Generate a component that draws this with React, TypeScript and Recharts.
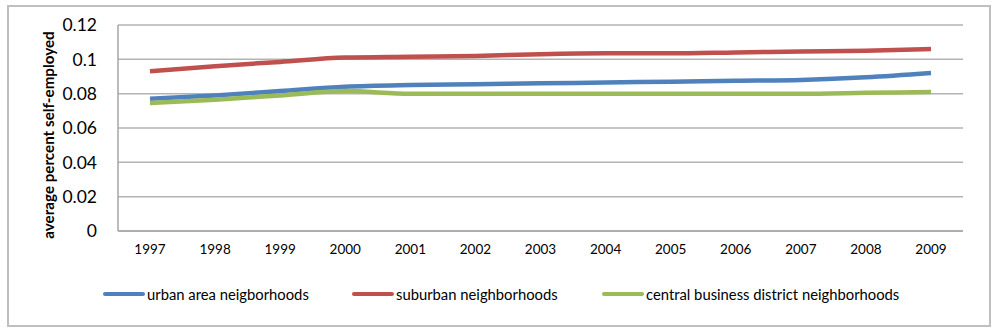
import React from "react";
import { LineChart, Line, XAxis, YAxis, CartesianGrid } from "recharts";

const years = ["1997", "1998", "1999", "2000", "2001", "2002", "2003", "2004", "2005", "2006", "2007", "2008", "2009"];
const urban = [0.077, 0.079, 0.0815, 0.084, 0.085, 0.0855, 0.086, 0.0865, 0.087, 0.0875, 0.088, 0.0895, 0.092];
const suburban = [0.093, 0.096, 0.0985, 0.101, 0.1015, 0.102, 0.103, 0.1035, 0.1035, 0.104, 0.1045, 0.105, 0.106];
const cbd = [0.0745, 0.0765, 0.079, 0.0815, 0.08, 0.08, 0.08, 0.08, 0.08, 0.08, 0.08, 0.0805, 0.081];
const yTicks = [0, 0.02, 0.04, 0.06, 0.08, 0.1, 0.12];

const seriesInfo = [
  { key: "urban", name: "urban area neigborhoods", color: "#4F81BD" },
  { key: "suburban", name: "suburban neighborhoods", color: "#C0504D" },
  { key: "cbd", name: "central business district neighborhoods", color: "#9BBB59" },
];

const data = years.map((y, i) => ({ year: y, urban: urban[i], suburban: suburban[i], cbd: cbd[i] }));

const FONT = "Lato, 'Open Sans', sans-serif";

const legendX = [103, 352, 602];

export default function App() {
  return (
    <div style={{ position: "absolute", left: 0, top: 0, width: 997, height: 332, overflow: "hidden", background: "#fff", fontFamily: FONT }}>
      <LineChart width={997} height={332} data={data} margin={{ top: 25, right: 34, left: 0, bottom: 71 }}>
        <CartesianGrid vertical={false} stroke="#b3b3b3" strokeWidth={1.5} />
        <XAxis
          dataKey="year"
          stroke="#a6a6a6"
          strokeWidth={1.5}
          tickLine={false}
          tickMargin={7}
          height={30}
          padding={{ left: 32, right: 32 }}
          tick={{ fill: "#000", fontSize: 13.5, fontFamily: FONT }}
        />
        <YAxis
          width={118}
          domain={[0, 0.12]}
          ticks={yTicks}
          stroke="#a6a6a6"
          strokeWidth={1.5}
          tickLine={false}
          tickMargin={15}
          tick={{ fill: "#000", fontSize: 17.5, fontFamily: FONT }}
          label={{
            content: () => (
              <text
                x={48}
                y={135}
                transform="rotate(-90 48 135)"
                textAnchor="middle"
                dominantBaseline="central"
                style={{ fontSize: 15.2, fontWeight: 700, fontFamily: FONT, fill: "#000" }}
              >
                average percent self-employed
              </text>
            ),
          }}
        />
        {seriesInfo.map((s) => (
          <Line
            key={s.key}
            dataKey={s.key}
            name={s.name}
            stroke={s.color}
            strokeWidth={4.5}
            dot={false}
            type="monotone"
            isAnimationActive={false}
          />
        ))}
      </LineChart>
      {seriesInfo.map((s, i) => (
        <div key={s.key} style={{ position: "absolute", left: legendX[i], top: 285, display: "flex", alignItems: "center", fontSize: 14.8, color: "#000", whiteSpace: "nowrap" }}>
          <span style={{ display: "inline-block", width: 42, height: 4.5, background: s.color, borderRadius: 2, marginRight: 2 }} />
          <span>{s.name}</span>
        </div>
      ))}
      <div style={{ position: "absolute", left: 7, top: 5, width: 980, height: 318, border: "2px solid #bfbfbf", pointerEvents: "none" }} />
    </div>
  );
}
